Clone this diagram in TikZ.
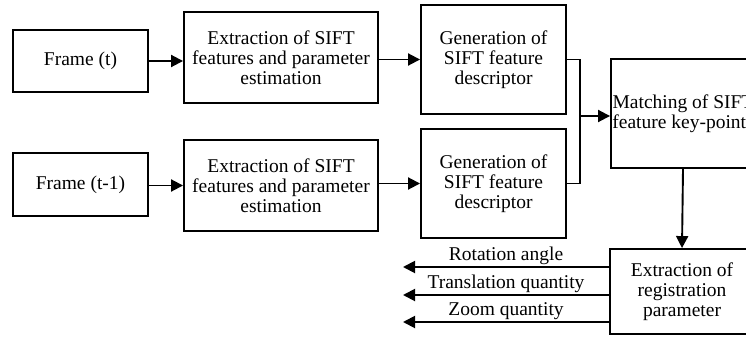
\documentclass[tikz,border=0pt]{standalone}
\usepackage{fontspec}
\setmainfont{Liberation Serif}
\usetikzlibrary{arrows.meta}
\begin{document}
\begin{tikzpicture}[x=1pt,y=-1pt,
  box/.style={draw, line width=1.9pt, align=center, inner sep=0pt,
    font=\fontsize{19.5}{20}\selectfont},
  conn/.style={line width=1.9pt},
  arr/.style={conn, -{Triangle[length=12pt,width=12pt]}},
  lab/.style={font=\fontsize{19.5}{20}\selectfont, inner sep=1.5pt}]
\useasboundingbox (0,0) rectangle (746,339);
\fill[white] (0,0) rectangle (746,339);
\clip (0,0) rectangle (746,339);
\node[box, minimum width=135pt, minimum height=62pt] (f1) at (80.5,61) {Frame (t)};
\node[box, minimum width=194pt, minimum height=91pt] (e1) at (281,57.5) {Extraction of SIFT\\features and parameter\\estimation};
\node[box, minimum width=145pt, minimum height=109pt] (g1) at (493.5,59.5) {Generation of\\SIFT feature\\descriptor};
\node[box, minimum width=135pt, minimum height=63pt] (f2) at (80.5,184.5) {Frame (t-1)};
\node[box, minimum width=194pt, minimum height=91pt] (e2) at (281,185.5) {Extraction of SIFT\\features and parameter\\estimation};
\node[box, minimum width=145pt, minimum height=109pt] (g2) at (493.5,183.5) {Generation of\\SIFT feature\\descriptor};
\node[box, minimum width=144pt, minimum height=109pt] (m) at (683,113.5) {Matching of SIFT\\feature key-points};
\node[box, minimum width=144pt, minimum height=85pt] (r) at (682,291.5) {Extraction of\\registration\\parameter};
\coordinate (jx) at (580,116);
\coordinate (o1) at (403,267);
\coordinate (o2) at (403,295);
\coordinate (o3) at (403,322);
\draw[arr] (f1.east) -- (e1.west |- f1.east);
\draw[arr] (e1.east |- g1.west) -- (g1.west);
\draw[arr] (f2.east |- e2.west) -- (e2.west);
\draw[arr] (e2.east |- g2.west) -- (g2.west);
\draw[conn] (g1.east) -| (jx) |- (g2.east);
\draw[arr] (jx) -- (m.west |- jx);
\draw[arr] (m.south) -- (r.north);
\draw[arr] (r.west |- o1) -- node[lab, above] {Rotation angle} (o1);
\draw[arr] (r.west |- o2) -- node[lab, above] {Translation quantity} (o2);
\draw[arr] (r.west |- o3) -- node[lab, above] {Zoom quantity} (o3);
\end{tikzpicture}
\end{document}
